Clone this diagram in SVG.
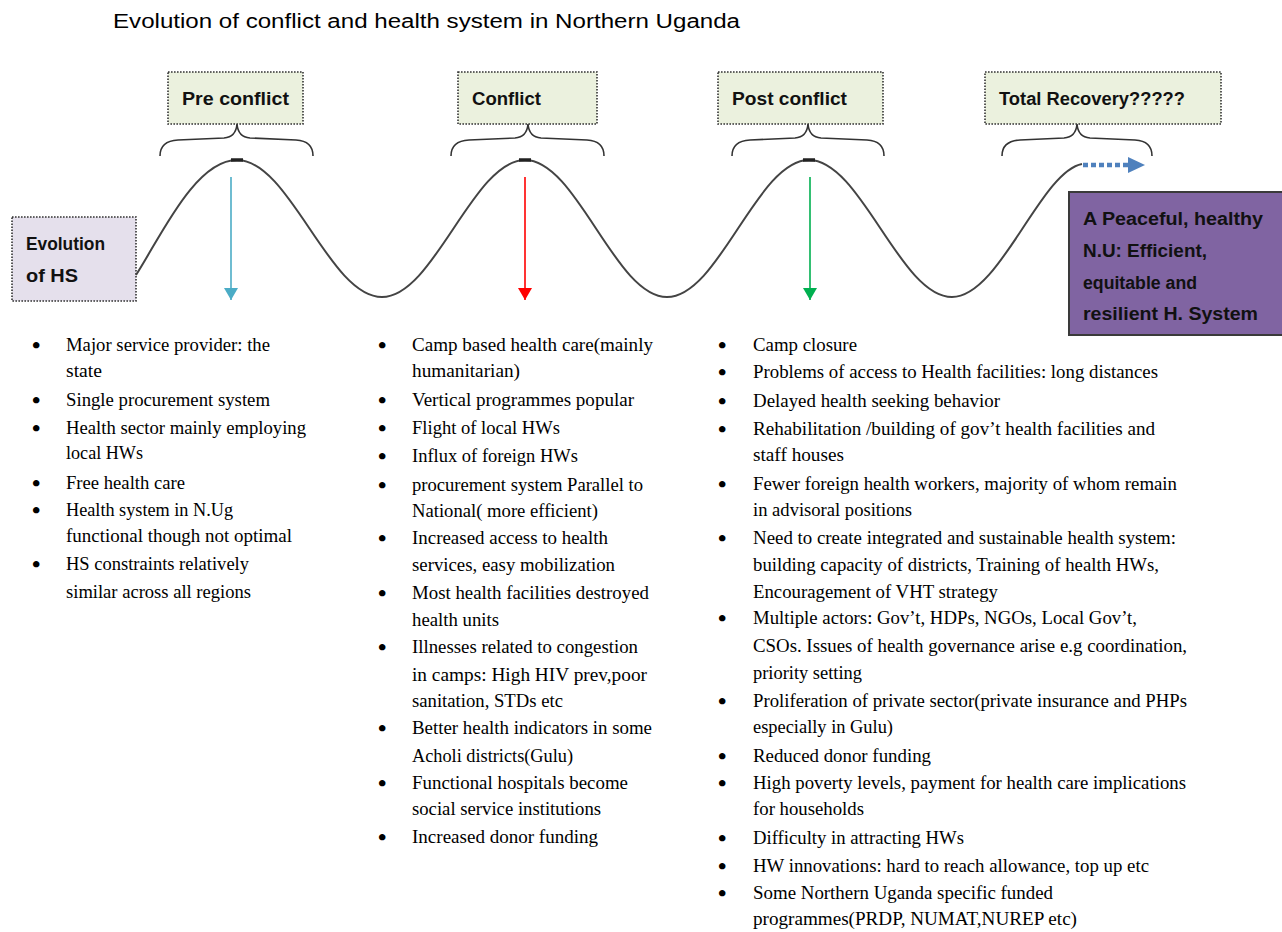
<svg xmlns="http://www.w3.org/2000/svg" width="1282" height="932" viewBox="0 0 1282 932">
<defs>
<style>
.ttl{font-family:"Liberation Sans",Arial,sans-serif;font-size:20px;fill:#000}
.lbl{font-family:"Liberation Sans",Arial,sans-serif;font-size:18px;font-weight:bold;fill:#111}
.phase{fill:#ebf1de;stroke:#333;stroke-width:1.6;stroke-dasharray:1.6 1.4}
.evo{fill:#e5e0ec;stroke:#333;stroke-width:1.6;stroke-dasharray:1.6 1.4}
.goal{fill:#8064a2;stroke:#3a3a3a;stroke-width:2}
.brace{fill:none;stroke:#333;stroke-width:1.6}
.wave{fill:none;stroke:#444;stroke-width:2}
.b{font-family:"Liberation Serif","Times New Roman",serif;font-size:19px;fill:#000}
.dot{font-family:"Liberation Serif","Times New Roman",serif;font-size:24px;font-weight:bold;fill:#000}
</style>
<marker id="ahBlue" markerWidth="12" markerHeight="14" refX="12" refY="7" orient="auto" markerUnits="userSpaceOnUse"><path d="M0,0 L12,7 L0,14 z" fill="#4bacc6"/></marker>
<marker id="ahRed" markerWidth="12" markerHeight="14" refX="12" refY="7" orient="auto" markerUnits="userSpaceOnUse"><path d="M0,0 L12,7 L0,14 z" fill="#ff0000"/></marker>
<marker id="ahGreen" markerWidth="12" markerHeight="14" refX="12" refY="7" orient="auto" markerUnits="userSpaceOnUse"><path d="M0,0 L12,7 L0,14 z" fill="#00b050"/></marker>
</defs>
<rect width="1282" height="932" fill="#ffffff"/>

<g id="title"><text class="ttl" x="113" y="28" textLength="627" lengthAdjust="spacingAndGlyphs">Evolution of conflict and health system in Northern Uganda</text></g>

<g id="box-pre"><rect class="phase" x="168" y="72" width="135" height="52"/><text class="lbl" x="182" y="105" textLength="107" lengthAdjust="spacingAndGlyphs">Pre conflict</text></g>
<g id="box-conflict"><rect class="phase" x="458" y="72" width="139" height="52"/><text class="lbl" x="472" y="105" textLength="69" lengthAdjust="spacingAndGlyphs">Conflict</text></g>
<g id="box-post"><rect class="phase" x="718" y="72" width="165" height="52"/><text class="lbl" x="732" y="105" textLength="115" lengthAdjust="spacingAndGlyphs">Post conflict</text></g>
<g id="box-total"><rect class="phase" x="985" y="72" width="236" height="52"/><text class="lbl" x="999" y="105" textLength="186" lengthAdjust="spacingAndGlyphs">Total Recovery?????</text></g>

<g id="box-evolution"><rect class="evo" x="12" y="217" width="124" height="84"/><text class="lbl" x="26" y="250" textLength="79" lengthAdjust="spacingAndGlyphs">Evolution</text><text class="lbl" x="26" y="282" textLength="52" lengthAdjust="spacingAndGlyphs">of HS</text></g>

<g id="box-goal"><rect class="goal" x="1069" y="192" width="220" height="143"/>
<text class="lbl" x="1083" y="225" textLength="180" lengthAdjust="spacingAndGlyphs">A Peaceful, healthy</text>
<text class="lbl" x="1083" y="257" textLength="124" lengthAdjust="spacingAndGlyphs">N.U: Efficient,</text>
<text class="lbl" x="1083" y="289" textLength="114" lengthAdjust="spacingAndGlyphs">equitable and</text>
<text class="lbl" x="1083" y="320" textLength="175" lengthAdjust="spacingAndGlyphs">resilient H. System</text>
</g>

<g id="braces">
<path class="brace" d="M160,156 Q160,141 178,140 L224,138 Q236,137 237,124 Q238,137 250,138 L296,140 Q313,141 313,156"/>
<path class="brace" d="M451,156 Q451,141 469,140 L515,138 Q527,137 528,124 Q529,137 541,138 L587,140 Q604,141 604,156"/>
<path class="brace" d="M732,156 Q732,141 750,140 L795,138 Q807,137 808,124 Q809,137 821,138 L867,140 Q884,141 884,156"/>
<path class="brace" d="M1002,156 Q1002,141 1020,140 L1064,138 Q1076,137 1077,124 Q1078,137 1090,138 L1135,140 Q1152,141 1152,156"/>
</g>

<g id="connectors">
<path class="wave" d="M136,275 C160,238 195,160 237,160 C290,160 329,297 382,297 C434,297 473,160 525,160 C577,160 615,297 667,297 C719,297 757,160 809,160 C861,160 900,297 952,297 C1000,297 1040,172 1082,164"/>
<g stroke="#222" stroke-width="3.5">
<line x1="231" y1="160" x2="243" y2="160"/>
<line x1="519" y1="160" x2="531" y2="160"/>
<line x1="803" y1="160" x2="815" y2="160"/>
</g>
<line x1="231" y1="177" x2="231" y2="300" stroke="#4bacc6" stroke-width="1.6" marker-end="url(#ahBlue)"/>
<line x1="525" y1="177" x2="525" y2="300" stroke="#ff0000" stroke-width="1.6" marker-end="url(#ahRed)"/>
<line x1="810" y1="177" x2="810" y2="300" stroke="#00b050" stroke-width="1.6" marker-end="url(#ahGreen)"/>
<line x1="1083" y1="165" x2="1128" y2="165" stroke="#4f81bd" stroke-width="4.5" stroke-dasharray="5 3"/>
<path d="M1128,157 L1145,165 L1128,173 z" fill="#4f81bd"/>
</g>

<g id="list-pre">
<text class="dot" x="32" y="353">•</text><text class="b" x="66" y="351" textLength="204" lengthAdjust="spacingAndGlyphs">Major service provider: the</text>
<text class="b" x="66" y="377" textLength="36" lengthAdjust="spacingAndGlyphs">state</text>
<text class="dot" x="32" y="408">•</text><text class="b" x="66" y="406" textLength="204" lengthAdjust="spacingAndGlyphs">Single procurement system</text>
<text class="dot" x="32" y="436">•</text><text class="b" x="66" y="434" textLength="240" lengthAdjust="spacingAndGlyphs">Health sector mainly employing</text>
<text class="b" x="66" y="459" textLength="77" lengthAdjust="spacingAndGlyphs">local HWs</text>
<text class="dot" x="32" y="491">•</text><text class="b" x="66" y="489" textLength="119" lengthAdjust="spacingAndGlyphs">Free health care</text>
<text class="dot" x="32" y="518">•</text><text class="b" x="66" y="516" textLength="167" lengthAdjust="spacingAndGlyphs">Health system in N.Ug</text>
<text class="b" x="66" y="542" textLength="226" lengthAdjust="spacingAndGlyphs">functional though not optimal</text>
<text class="dot" x="32" y="572">•</text><text class="b" x="66" y="570" textLength="183" lengthAdjust="spacingAndGlyphs">HS constraints relatively</text>
<text class="b" x="66" y="598" textLength="185" lengthAdjust="spacingAndGlyphs">similar across all regions</text>
</g>

<g id="list-conflict">
<text class="dot" x="378" y="353">•</text><text class="b" x="412" y="351" textLength="241" lengthAdjust="spacingAndGlyphs">Camp based health care(mainly</text>
<text class="b" x="412" y="377" textLength="108" lengthAdjust="spacingAndGlyphs">humanitarian)</text>
<text class="dot" x="378" y="408">•</text><text class="b" x="412" y="406" textLength="222" lengthAdjust="spacingAndGlyphs">Vertical programmes popular</text>
<text class="dot" x="378" y="436">•</text><text class="b" x="412" y="434" textLength="148" lengthAdjust="spacingAndGlyphs">Flight of local HWs</text>
<text class="dot" x="378" y="464">•</text><text class="b" x="412" y="462" textLength="166" lengthAdjust="spacingAndGlyphs">Influx of foreign HWs</text>
<text class="dot" x="378" y="493">•</text><text class="b" x="412" y="491" textLength="231" lengthAdjust="spacingAndGlyphs">procurement system Parallel to</text>
<text class="b" x="412" y="517" textLength="186" lengthAdjust="spacingAndGlyphs">National( more efficient)</text>
<text class="dot" x="378" y="546">•</text><text class="b" x="412" y="544" textLength="196" lengthAdjust="spacingAndGlyphs">Increased access to health</text>
<text class="b" x="412" y="571" textLength="203" lengthAdjust="spacingAndGlyphs">services, easy mobilization</text>
<text class="dot" x="378" y="601">•</text><text class="b" x="412" y="599" textLength="237" lengthAdjust="spacingAndGlyphs">Most health facilities destroyed</text>
<text class="b" x="412" y="626" textLength="87" lengthAdjust="spacingAndGlyphs">health units</text>
<text class="dot" x="378" y="655">•</text><text class="b" x="412" y="653" textLength="226" lengthAdjust="spacingAndGlyphs">Illnesses related to congestion</text>
<text class="b" x="412" y="681" textLength="235" lengthAdjust="spacingAndGlyphs">in camps: High HIV prev,poor</text>
<text class="b" x="412" y="707" textLength="151" lengthAdjust="spacingAndGlyphs">sanitation, STDs etc</text>
<text class="dot" x="378" y="736">•</text><text class="b" x="412" y="734" textLength="240" lengthAdjust="spacingAndGlyphs">Better health indicators in some</text>
<text class="b" x="412" y="762" textLength="161" lengthAdjust="spacingAndGlyphs">Acholi districts(Gulu)</text>
<text class="dot" x="378" y="791">•</text><text class="b" x="412" y="789" textLength="216" lengthAdjust="spacingAndGlyphs">Functional hospitals become</text>
<text class="b" x="412" y="815" textLength="189" lengthAdjust="spacingAndGlyphs">social service institutions</text>
<text class="dot" x="378" y="845">•</text><text class="b" x="412" y="843" textLength="186" lengthAdjust="spacingAndGlyphs">Increased donor funding</text>
</g>

<g id="list-post">
<text class="dot" x="718" y="353">•</text><text class="b" x="753" y="351" textLength="104" lengthAdjust="spacingAndGlyphs">Camp closure</text>
<text class="dot" x="718" y="380">•</text><text class="b" x="753" y="378" textLength="405" lengthAdjust="spacingAndGlyphs">Problems of access to Health facilities: long distances</text>
<text class="dot" x="718" y="409">•</text><text class="b" x="753" y="407" textLength="247" lengthAdjust="spacingAndGlyphs">Delayed health seeking behavior</text>
<text class="dot" x="718" y="437">•</text><text class="b" x="753" y="435" textLength="402" lengthAdjust="spacingAndGlyphs">Rehabilitation /building of gov’t health facilities and</text>
<text class="b" x="753" y="461" textLength="91" lengthAdjust="spacingAndGlyphs">staff houses</text>
<text class="dot" x="718" y="492">•</text><text class="b" x="753" y="490" textLength="424" lengthAdjust="spacingAndGlyphs">Fewer foreign health workers, majority of whom remain</text>
<text class="b" x="753" y="516" textLength="159" lengthAdjust="spacingAndGlyphs">in advisoral positions</text>
<text class="dot" x="718" y="546">•</text><text class="b" x="753" y="544" textLength="423" lengthAdjust="spacingAndGlyphs">Need to create integrated and sustainable health system:</text>
<text class="b" x="753" y="571" textLength="406" lengthAdjust="spacingAndGlyphs">building capacity of districts, Training of health HWs,</text>
<text class="b" x="753" y="598" textLength="245" lengthAdjust="spacingAndGlyphs">Encouragement of VHT strategy</text>
<text class="dot" x="718" y="626">•</text><text class="b" x="753" y="624" textLength="384" lengthAdjust="spacingAndGlyphs">Multiple actors: Gov’t, HDPs, NGOs, Local Gov’t,</text>
<text class="b" x="753" y="652" textLength="434" lengthAdjust="spacingAndGlyphs">CSOs. Issues of health governance arise e.g coordination,</text>
<text class="b" x="753" y="679" textLength="109" lengthAdjust="spacingAndGlyphs">priority setting</text>
<text class="dot" x="718" y="709">•</text><text class="b" x="753" y="707" textLength="434" lengthAdjust="spacingAndGlyphs">Proliferation of private sector(private insurance and PHPs</text>
<text class="b" x="753" y="733" textLength="140" lengthAdjust="spacingAndGlyphs">especially in Gulu)</text>
<text class="dot" x="718" y="764">•</text><text class="b" x="753" y="762" textLength="178" lengthAdjust="spacingAndGlyphs">Reduced donor funding</text>
<text class="dot" x="718" y="791">•</text><text class="b" x="753" y="789" textLength="433" lengthAdjust="spacingAndGlyphs">High poverty levels, payment for health care implications</text>
<text class="b" x="753" y="815" textLength="111" lengthAdjust="spacingAndGlyphs">for households</text>
<text class="dot" x="718" y="846">•</text><text class="b" x="753" y="844" textLength="211" lengthAdjust="spacingAndGlyphs">Difficulty in attracting HWs</text>
<text class="dot" x="718" y="874">•</text><text class="b" x="753" y="872" textLength="396" lengthAdjust="spacingAndGlyphs">HW innovations: hard to reach allowance, top up etc</text>
<text class="dot" x="718" y="901">•</text><text class="b" x="753" y="899" textLength="300" lengthAdjust="spacingAndGlyphs">Some Northern Uganda specific funded</text>
<text class="b" x="753" y="925" textLength="324" lengthAdjust="spacingAndGlyphs">programmes(PRDP, NUMAT,NUREP etc)</text>
</g>
</svg>
